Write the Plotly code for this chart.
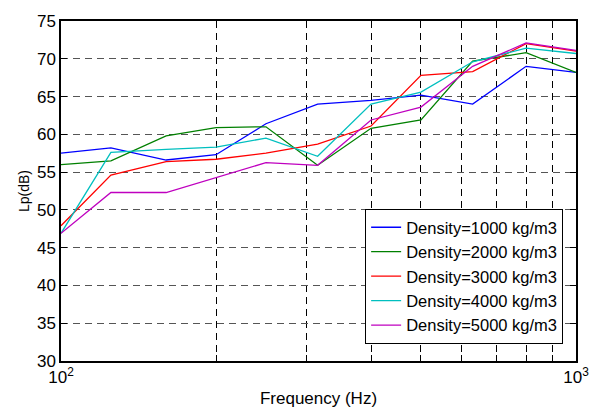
import plotly.graph_objects as go

freq = [100, 125, 160, 200, 250, 315, 400, 500, 630, 800, 1000]
d1000 = [57.5, 58.2, 56.6, 57.3, 61.4, 64.0, 64.5, 65.2, 64.0, 69.0, 68.2]
d2000 = [56.0, 56.5, 59.8, 60.9, 61.0, 55.9, 60.8, 61.9, 69.7, 70.8, 68.2]
d3000 = [47.9, 54.6, 56.4, 56.7, 57.5, 58.7, 61.1, 67.8, 68.3, 72.0, 71.0]
d4000 = [46.9, 57.6, 58.0, 58.3, 59.5, 57.1, 64.0, 65.6, 69.6, 71.4, 70.7]
d5000 = [46.9, 52.3, 52.3, 54.3, 56.25, 55.9, 61.9, 63.6, 69.0, 72.1, 71.1]

series = [
    ("Density=1000 kg/m3", d1000, "#0000ff"),
    ("Density=2000 kg/m3", d2000, "#008000"),
    ("Density=3000 kg/m3", d3000, "#ff0000"),
    ("Density=4000 kg/m3", d4000, "#00bfbf"),
    ("Density=5000 kg/m3", d5000, "#bf00bf"),
]

x_ticks = [100, 1000]
x_ticktext = ["10<sup>2</sup>", "10<sup>3</sup>"]
x_minor = [200, 300, 400, 500, 600, 700, 800, 900]
y_ticks = [30, 35, 40, 45, 50, 55, 60, 65, 70, 75]

fig = go.Figure()
for name, vals, col in series:
    fig.add_trace(go.Scatter(x=freq, y=vals, mode="lines", name=name,
                             line=dict(color=col, width=1.3)))

font = dict(family="Liberation Sans, Arial, sans-serif", size=17, color="black")
fig.update_layout(
    width=601, height=417,
    margin=dict(l=61, r=20, t=18, b=52),
    paper_bgcolor="white", plot_bgcolor="white",
    font=font,
    showlegend=True,
    legend=dict(x=0.975, y=0.05, xanchor="right", yanchor="bottom",
                bgcolor="white", bordercolor="black", borderwidth=1,
                font=dict(size=16.5), tracegroupgap=0, itemwidth=30),
    xaxis=dict(
        type="log", range=[2, 3],
        tickvals=x_ticks, ticktext=x_ticktext,
        ticks="", showgrid=False, zeroline=False,
        showline=True, linecolor="black", linewidth=1.5, mirror=True,
        minor=dict(tickvals=x_minor, ticks="inside", ticklen=6, tickcolor="black",
                   showgrid=True, gridcolor="black", griddash="7px,5px", gridwidth=1),
        title=dict(text="Frequency (Hz)", font=dict(size=17), standoff=6),
        tickfont=dict(size=17),
    ),
    yaxis=dict(
        range=[30, 75], tickvals=y_ticks,
        ticks="inside", ticklen=6, tickcolor="black",
        showgrid=True, gridcolor="#555555", griddash="7px,5px", gridwidth=1,
        zeroline=False,
        showline=True, linecolor="black", linewidth=1.5, mirror="ticks",
        title=dict(text="Lp(dB)", font=dict(size=14), standoff=4),
        tickfont=dict(size=17),
    ),
)

fig.write_html("out.html")
